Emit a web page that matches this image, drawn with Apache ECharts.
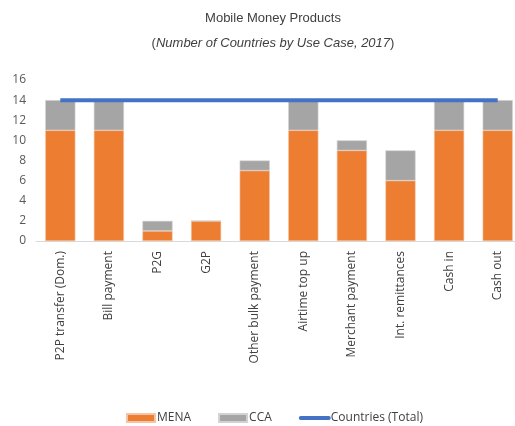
<!DOCTYPE html>
<html>
<head>
<meta charset="utf-8">
<script src="https://cdn.jsdelivr.net/npm/echarts@6/dist/echarts.min.js"></script>
<style>
  html, body { margin: 0; padding: 0; background: #fff; overflow: hidden; }
  #chart { width: 522px; height: 426px; }
</style>
</head>
<body>
<div id="chart"></div>
<script>
// 사용 사례별 국가 수 (2017)
const categories = ['P2P transfer (Dom.)', 'Bill payment', 'P2G', 'G2P', 'Other bulk payment',
  'Airtime top up', 'Merchant payment', 'Int. remittances', 'Cash in', 'Cash out'];
const menaValues = [11, 11, 1, 2, 7, 11, 9, 6, 11, 11];
const ccaValues = [3, 3, 1, 0, 1, 3, 1, 3, 3, 3];
const totalValues = [14, 14, 14, 14, 14, 14, 14, 14, 14, 14];
const yTicks = [0, 2, 4, 6, 8, 10, 12, 14, 16];

const chart = echarts.init(document.getElementById('chart'));

const titleFont = "'Liberation Sans', sans-serif";

const option = {
  animation: false,
  title: {
    text: 'Mobile Money Products',
    subtext: '{n|(}{i|Number of Countries by Use Case, 2017}{n|)}',
    left: 268,
    textAlign: 'center',
    top: 7,
    itemGap: 12,
    textStyle: { fontFamily: titleFont, fontWeight: 'normal', fontSize: 13, color: '#404040' },
    subtextStyle: {
      fontFamily: titleFont, fontSize: 13, color: '#404040',
      rich: {
        n: { fontFamily: titleFont, fontSize: 13, color: '#404040' },
        i: { fontFamily: titleFont, fontSize: 13, fontStyle: 'italic', color: '#404040' }
      }
    }
  },
  legend: {
    left: 121,
    top: 407,
    itemWidth: 28,
    itemHeight: 8,
    itemGap: 27,
    textStyle: { fontFamily: 'Open Sans', fontSize: 12, color: '#404040', padding: [0, 0, 0, -3] },
    data: [
      { name: 'MENA', icon: 'rect' },
      { name: 'CCA', icon: 'rect' },
      { name: 'Countries (Total)', itemStyle: { opacity: 0 }, lineStyle: { width: 4, cap: 'round' } }
    ]
  },
  grid: { left: 36, right: 0, top: 80, bottom: 185 },
  xAxis: {
    type: 'category',
    data: categories,
    axisLine: { lineStyle: { color: '#d9d9d9', width: 1 } },
    axisTick: { show: false },
    axisLabel: { rotate: 90, interval: 0, fontFamily: 'Open Sans', fontSize: 12, color: '#404040', margin: 10 }
  },
  yAxis: {
    type: 'value',
    min: yTicks[0],
    max: yTicks[yTicks.length - 1],
    interval: 2,
    axisLine: { show: false },
    axisTick: { show: false },
    splitLine: { show: false },
    axisLabel: { fontFamily: 'Open Sans', fontSize: 12, color: '#595959', margin: 10 }
  },
  series: [
    {
      name: 'MENA', type: 'bar', stack: 'total', data: menaValues, barWidth: '62%',
      itemStyle: { color: '#ED7D31', borderColor: '#f4c4a4', borderWidth: 0.6 }
    },
    {
      name: 'CCA', type: 'bar', stack: 'total', data: ccaValues,
      itemStyle: { color: '#A5A5A5', borderColor: '#d2d2d2', borderWidth: 0.6 }
    },
    {
      name: 'Countries (Total)', type: 'line', data: totalValues, symbol: 'none',
      lineStyle: { color: '#4472C4', width: 4 }, itemStyle: { color: '#4472C4' }
    }
  ]
};

chart.setOption(option);
</script>
</body>
</html>
